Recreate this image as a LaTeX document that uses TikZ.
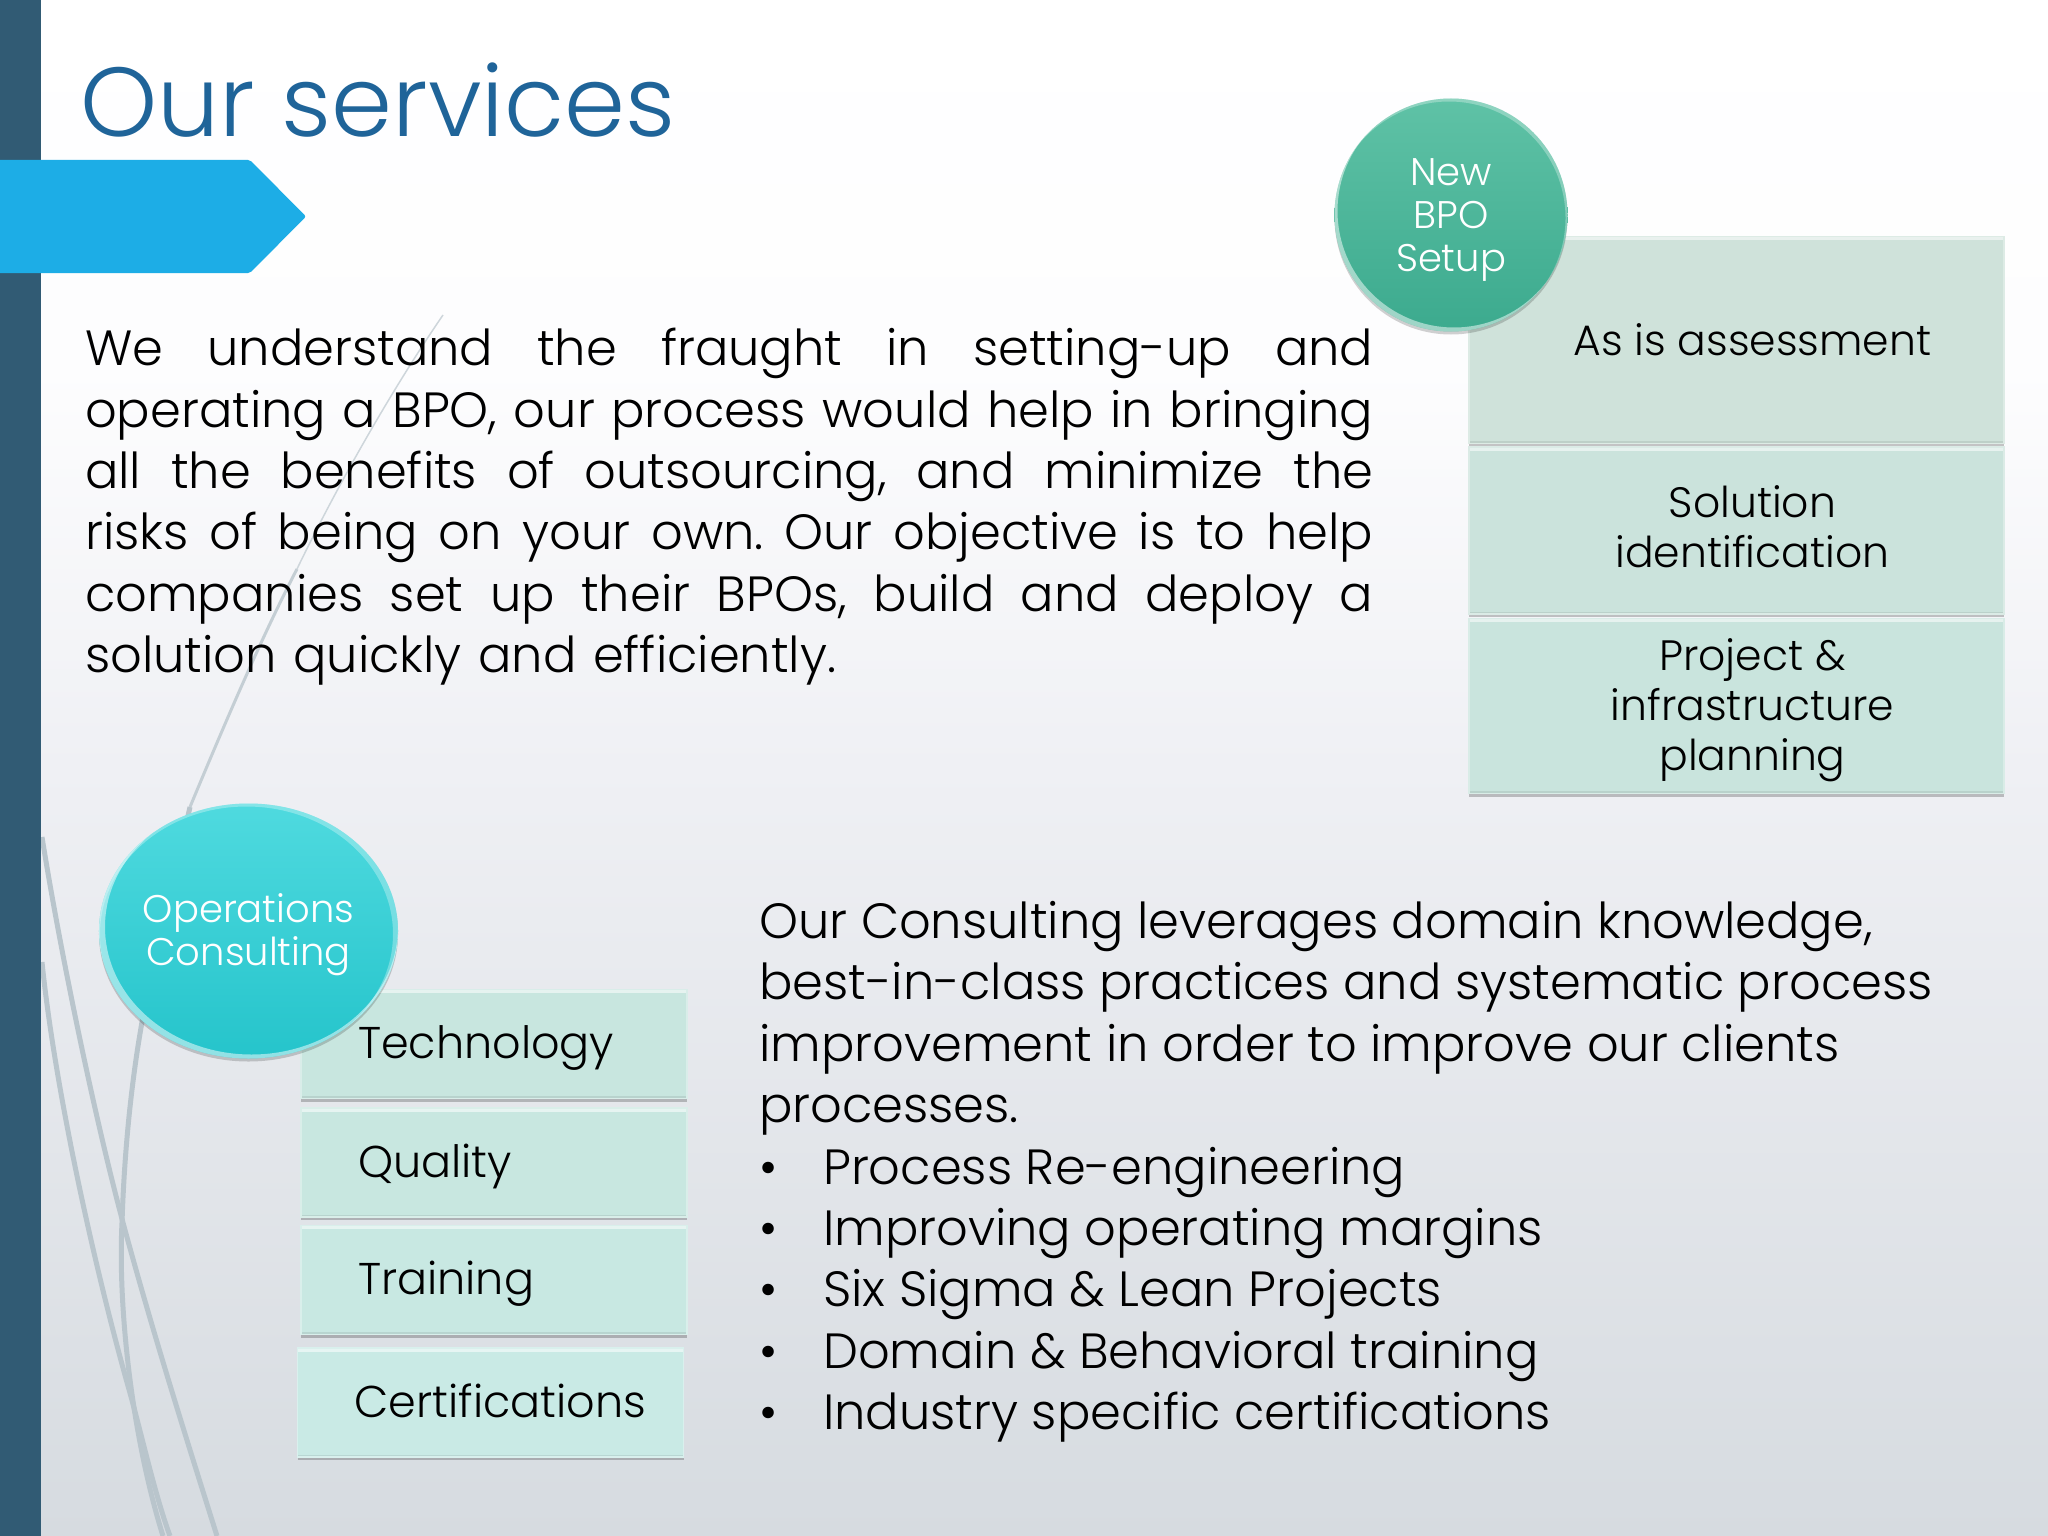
\documentclass[tikz,border=0pt]{standalone}
\usepackage{xcolor}
\usepackage{fontspec}
\setmainfont{Poppins}[UprightFont=* Light]
\usetikzlibrary{positioning, shadows, shapes.geometric}
\definecolor{sidebar}{HTML}{315B74}
\definecolor{pointer}{HTML}{1DADE6}
\definecolor{titleblue}{HTML}{1F6499}
\definecolor{wisp}{HTML}{B9C5CC}
\definecolor{bgnear}{HTML}{FDFDFE}
\definecolor{bgmid}{HTML}{EFF0F4}
\definecolor{bgbottom}{HTML}{D6DBE0}
\definecolor{boxa}{HTML}{CFE2DA}
\definecolor{boxb}{HTML}{CBE3DC}
\definecolor{boxc}{HTML}{C9E4DD}
\definecolor{boxd}{HTML}{C8E6DF}
\definecolor{boxe}{HTML}{C8E7E0}
\definecolor{boxf}{HTML}{C8E8E2}
\definecolor{boxg}{HTML}{C9EAE5}
\definecolor{newtop}{HTML}{5FC2A6}
\definecolor{newbottom}{HTML}{3CAA8E}
\definecolor{opstop}{HTML}{4FDADF}
\definecolor{opsbottom}{HTML}{25C4CB}
\pgfdeclareverticalshading{slidebg}{100bp}{color(0bp)=(bgbottom); color(25bp)=(bgbottom); color(50bp)=(bgmid); color(63bp)=(bgnear); color(75bp)=(white); color(100bp)=(white)}
\newcommand{\fitline}[1]{\makebox[1288pt][s]{\frenchspacing\spaceskip=.2em plus 1fil\relax #1}\par}
\newcommand{\bulletline}[1]{\makebox[64pt][l]{\textbullet}#1}
\newcommand{\nudged}{\hspace*{32pt}}
\newcommand{\headroom}{\rule{0pt}{36pt}}
\newcommand{\boxstrut}{\rule[-12pt]{0pt}{53pt}}

\begin{document}
\begin{tikzpicture}[
		x=1pt,y=-1pt,
		node distance=7pt,
		stepbox/.style={
			draw=#1!70!white,
			line width=1.5pt,
			fill=#1,
			inner sep=0pt,
			align=center,
			font=\fontsize{42.5}{50}\selectfont,
			drop shadow={shadow xshift=0pt,shadow yshift=-3pt,opacity=.22,fill=black},
			path picture={
				\draw[white,opacity=.55,line width=7pt] (path picture bounding box.north west) -- (path picture bounding box.north east);
				\draw[black,opacity=.08,line width=5pt] (path picture bounding box.south west) -- (path picture bounding box.south east);
			}
		},
		rightbox/.style={stepbox=#1,minimum width=535pt},
		leftbox/.style={stepbox=#1,minimum width=386pt,minimum height=109pt,text width=272pt,align=left,font=\fontsize{44.5}{50}\selectfont},
		bubble/.style 2 args={
			ellipse,
			align=center,
			inner sep=0pt,
			text=white,
			minimum width=2*#1*1pt,
			minimum height=2*#2*1pt,
			font=\fontsize{38.5}{43}\selectfont,
			drop shadow={shadow xshift=0pt,shadow yshift=-3pt,opacity=.18,fill=black},
			path picture={
				\fill[white,opacity=.5,even odd rule] (path picture bounding box.south west) rectangle (path picture bounding box.north east) ([shift={(3,-4)}]path picture bounding box.center) ellipse [x radius=#1,y radius=#2];
				\fill[white,opacity=.3,even odd rule] (path picture bounding box.south west) rectangle (path picture bounding box.north east) ([shift={(-2,3)}]path picture bounding box.center) ellipse [x radius=#1,y radius=#2];
			}
		},
		wispline/.style={draw=wisp,line width=5pt}
	]

	\useasboundingbox (0,0) rectangle (2048,1536);
	\shade[shading=slidebg] (0,0) rectangle (2048,1536);

	\draw[wispline] (42,837) .. controls (60,950) and (95,1120) .. (125,1230) .. controls (155,1340) and (190,1450) .. (217,1536);
	\draw[wispline] (42,962) .. controls (55,1090) and (95,1270) .. (130,1393) .. controls (143,1440) and (155,1495) .. (170,1536);
	\draw[wispline] (163,1536) .. controls (130,1430) and (118,1300) .. (122,1223) .. controls (124,1160) and (130,1090) .. (142,1022) -- (190,807);
	\draw[wisp!85!white,line width=3pt] (190,807) .. controls (220,735) and (260,640) .. (297,569);
	\draw[wisp!70!white,line width=1.5pt] (297,569) .. controls (340,480) and (395,385) .. (443,315);

	\fill[sidebar] (0,0) rectangle (41,1536);
	\fill[pointer,rounded corners=2pt] (-5,160) -- (250,160) -- (306,216.5) -- (250,273) -- (-5,273) -- cycle;

	\node[anchor=base west,inner sep=0pt,text=titleblue,font=\fontsize{98}{100}\selectfont] (title) at (80,136) {Our services};

	\node[anchor=north west,inner sep=0pt,text width=1288pt,font=\fontsize{49.5}{61.4}\selectfont] (intro) at (85,328) {%
		\fitline{We understand the fraught in setting-up and}
		\fitline{operating a BPO, our process would help in bringing}
		\fitline{all the benefits of outsourcing, and minimize the}
		\fitline{risks of being on your own. Our objective is to help}
		\fitline{companies set up their BPOs, build and deploy a}
		solution quickly and efficiently.};

	\node[rightbox=boxa,minimum height=207pt] (assess) at (1736.5,340) {\nudged As is assessment};
	\node[rightbox=boxb,minimum height=167pt,below=2pt of assess] (solution) {\nudged Solution\\\nudged identification\rule[-8pt]{0pt}{0pt}};
	\node[rightbox=boxc,minimum height=175pt,below=3pt of solution] (project) {\nudged\rule{0pt}{40pt}Project \&\\\nudged infrastructure\\\nudged planning};
	\node[bubble={116.5}{116.5},shade,top color=newtop,bottom color=newbottom] (newbpo) at (1451,215) {\headroom New\\BPO\\Setup};

	\node[leftbox=boxd] (technology) at (494,1044) {\boxstrut Technology};
	\node[leftbox=boxe,below=8pt of technology] (quality) {\boxstrut Quality};
	\node[leftbox=boxf,below=7pt of quality] (training) {\boxstrut Training};
	\node[leftbox=boxg,below=12pt of training,xshift=-3.5pt] (certifications) {\boxstrut Certifications};
	\node[bubble={146.5}{127.5},shade,top color=opstop,bottom color=opsbottom] (operations) at (248.5,931) {\headroom Operations\\Consulting};

	\node[anchor=north west,inner sep=0pt,align=left,font=\fontsize{49.5}{61.4}\selectfont] (consulting) at (759,901) {%
		Our Consulting leverages domain knowledge,\\
		best-in-class practices and systematic process\\
		improvement in order to improve our clients\\
		processes.\\
		\bulletline{Process Re-engineering}\\
		\bulletline{Improving operating margins}\\
		\bulletline{Six Sigma \& Lean Projects}\\
		\bulletline{Domain \& Behavioral training}\\
		\bulletline{Industry specific certifications}};

\end{tikzpicture}
\end{document}
